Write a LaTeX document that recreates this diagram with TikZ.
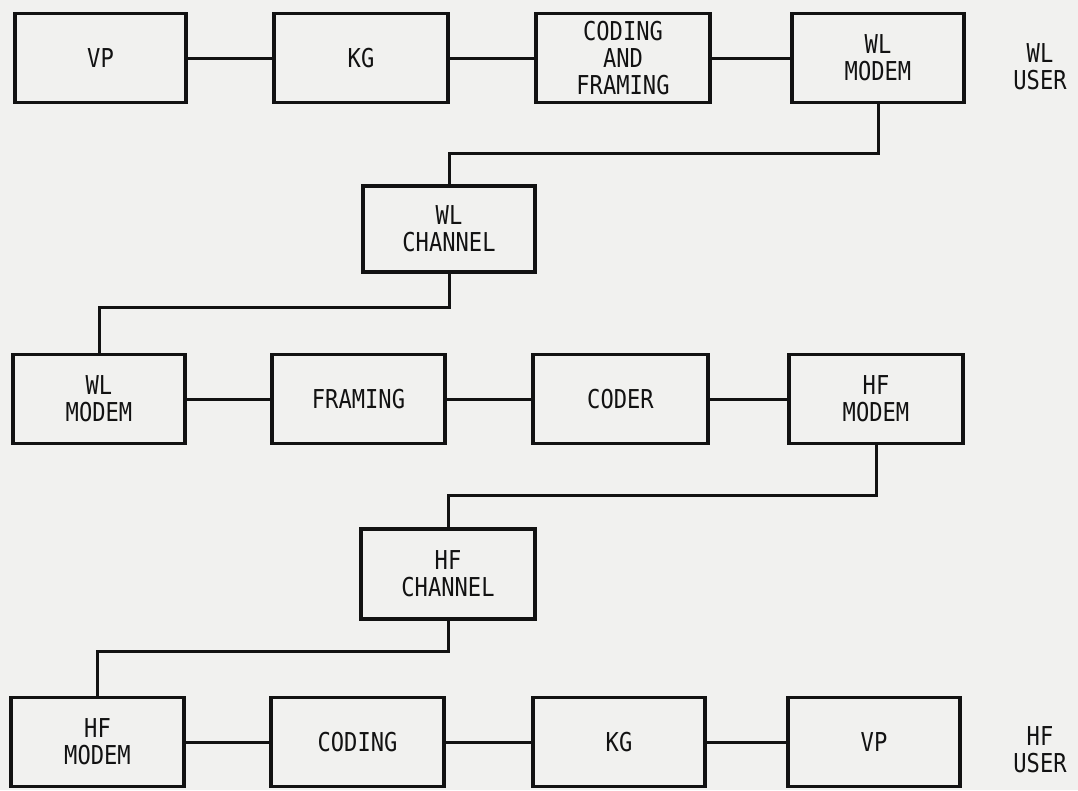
\documentclass[tikz,border=0pt]{standalone}
\usepackage{fontspec}
\newfontfamily\lblfont[FakeStretch=0.85]{DejaVu Sans Mono}
\definecolor{paper}{RGB}{241,241,239}
\definecolor{ink}{RGB}{18,18,18}
\begin{document}
\begin{tikzpicture}[x=1pt,y=-1pt,
  box/.style={draw=ink, line width=3.2pt, rectangle, inner sep=0pt, align=center,
    font=\lblfont\fontsize{26}{27}\selectfont, text=ink},
  boxA/.style={box, minimum width=#1, minimum height=89pt},
  wire/.style={draw=ink, line width=3pt},
  lbl/.style={align=center, inner sep=0pt, font=\lblfont\fontsize{26}{27}\selectfont, text=ink}]
\fill[paper] (0,0) rectangle (1078,790);
\useasboundingbox (0,0) rectangle (1078,790);

% Row 1
\node[boxA=171pt] (vp1) at (100.5,58) {VP};
\node[boxA=174pt] (kg1) at (361,58) {KG};
\node[boxA=174pt] (cf1) at (623,58) {CODING\\AND\\FRAMING};
\node[boxA=172pt] (wm1) at (878,58) {WL\\MODEM};
\node[lbl] (wlu) at (1040,67) {WL\\USER};

% WL channel
\node[box, minimum width=172pt, minimum height=86pt] (wc) at (449,229) {WL\\CHANNEL};

% Row 3
\node[boxA=172pt] (wm3) at (99,399) {WL\\MODEM};
\node[boxA=173pt] (fr3) at (358.5,399) {FRAMING};
\node[boxA=175pt] (cd3) at (620.5,399) {CODER};
\node[boxA=174pt] (hm3) at (876,399) {HF\\MODEM};

% HF channel
\node[box, minimum width=174pt, minimum height=90pt] (hc) at (448,574) {HF\\CHANNEL};

% Row 5
\node[boxA=173pt] (hm5) at (97.5,742) {HF\\MODEM};
\node[boxA=173pt] (co5) at (357.5,742) {CODING};
\node[boxA=172pt] (kg5) at (619,742) {KG};
\node[boxA=172pt] (vp5) at (874,742) {VP};
\node[lbl] (hfu) at (1040,750) {HF\\USER};

% Connectors
\draw[wire] (vp1) -- (kg1);
\draw[wire] (kg1) -- (cf1);
\draw[wire] (cf1) -- (wm1);
\draw[wire] (wm1.south) -- ++(0,49) -| (wc.north);
\draw[wire] (wc.south) -- ++(0,34) -| (wm3.north);
\draw[wire] (wm3) -- (fr3);
\draw[wire] (fr3) -- (cd3);
\draw[wire] (cd3) -- (hm3);
\draw[wire] (hm3.south) -- ++(0,50) -| (hc.north);
\draw[wire] (hc.south) -- ++(0,31) -| (hm5.north);
\draw[wire] (hm5) -- (co5);
\draw[wire] (co5) -- (kg5);
\draw[wire] (kg5) -- (vp5);
\end{tikzpicture}
\end{document}
